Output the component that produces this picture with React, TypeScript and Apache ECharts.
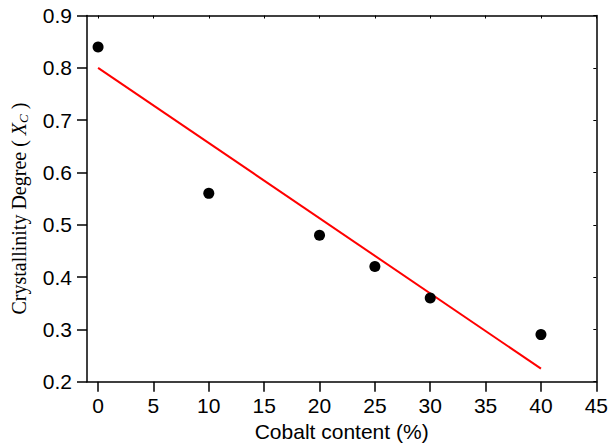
import React, { useEffect, useRef } from "react";
import * as echarts from "echarts";

const cobalt = [0, 10, 20, 25, 30, 40];
const crystallinity = [0.84, 0.56, 0.48, 0.42, 0.36, 0.29];
const fitX = [0, 40];
const fitY = [0.8, 0.225];
const xTicks = [0, 5, 10, 15, 20, 25, 30, 35, 40, 45];

export default function App() {
  const ref = useRef<HTMLDivElement>(null);
  useEffect(() => {
    const chart = echarts.init(ref.current!, null, { renderer: "svg" });
    const sans = "'Liberation Sans', Arial, sans-serif";
    const serif = "'Liberation Serif', 'Times New Roman', serif";
    chart.setOption({
      animation: false,
      backgroundColor: "#fff",
      grid: { left: 87, top: 15.5, right: 14.3, bottom: 66.3, containLabel: false },
      xAxis: [
        {
          type: "value",
          min: -1,
          max: 45,
          interval: 5,
          axisLine: { onZero: false, lineStyle: { color: "#000", width: 1.5 } },
          axisTick: { show: true, inside: false, length: 10, lineStyle: { color: "#000", width: 1.5 }, customValues: xTicks },
          axisLabel: { color: "#000", fontSize: 21, fontFamily: sans, margin: 13, customValues: xTicks },
          splitLine: { show: false },
          name: "Cobalt content (%)",
          nameLocation: "middle",
          nameGap: 37,
          nameTextStyle: { color: "#000", fontSize: 21, fontFamily: sans },
        },
        {
          type: "value",
          position: "top",
          min: -1,
          max: 45,
          axisLine: { show: true, onZero: false, lineStyle: { color: "#000", width: 1.5 } },
          axisTick: { show: true, inside: true, length: 3, lineStyle: { color: "#000" }, customValues: xTicks },
          axisLabel: { show: false },
          splitLine: { show: false },
        },
      ],
      yAxis: [
        {
          type: "value",
          min: 0.2,
          max: 0.9,
          interval: 0.1,
          axisLine: { show: true, onZero: false, lineStyle: { color: "#000", width: 1.5 } },
          axisTick: { show: true, inside: false, length: 10, lineStyle: { color: "#000", width: 1.5 } },
          axisLabel: { color: "#000", fontSize: 21, fontFamily: sans, margin: 15, formatter: (v: number) => v.toFixed(1) },
          splitLine: { show: false },
          name: "{n|Crystallinity Degree ( }{x|X}{c|C}{n| )}",
          nameLocation: "middle",
          nameGap: 57,
          nameTextStyle: {
            color: "#000",
            fontFamily: serif,
            fontSize: 20,
            padding: [0, 20, 0, 0],
            rich: {
              n: { fontFamily: serif, fontSize: 20, color: "#000" },
              x: { fontFamily: serif, fontSize: 20, fontStyle: "italic", color: "#000" },
              c: { fontFamily: serif, fontSize: 13, fontStyle: "italic", color: "#000", verticalAlign: "bottom", padding: [9, 0, 0, 0] },
            },
          },
        },
        {
          type: "value",
          position: "right",
          min: 0.2,
          max: 0.9,
          interval: 0.1,
          axisLine: { show: true, onZero: false, lineStyle: { color: "#000", width: 1.5 } },
          axisTick: { show: true, inside: true, length: 3, lineStyle: { color: "#000" } },
          axisLabel: { show: false },
          splitLine: { show: false },
        },
      ],
      series: [
        {
          type: "line",
          data: fitX.map((x, i) => [x, fitY[i]]),
          symbol: "none",
          lineStyle: { color: "#ff0000", width: 2 },
          z: 2,
        },
        {
          type: "scatter",
          data: cobalt.map((x, i) => [x, crystallinity[i]]),
          symbol: "circle",
          symbolSize: 11,
          itemStyle: { color: "#000", opacity: 1 },
          z: 3,
        },
      ],
    });
    return () => chart.dispose();
  }, []);
  return <div ref={ref} style={{ width: 611, height: 448, position: "absolute", left: 0, top: 0 }} />;
}
